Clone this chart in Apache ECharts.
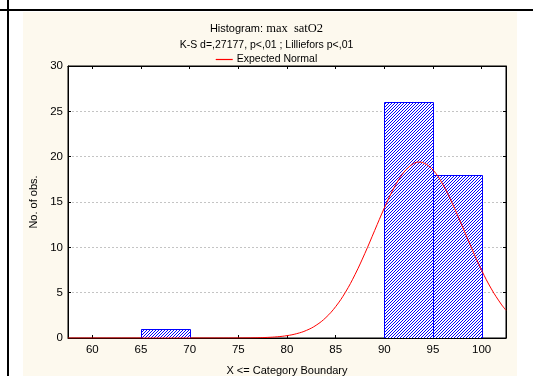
<!DOCTYPE html>
<html>
<head>
<meta charset="utf-8">
<script src="https://cdn.jsdelivr.net/npm/echarts@6/dist/echarts.min.js"></script>
<style>
html,body{margin:0;padding:0;background:#fff;}
#chart{width:533px;height:376px;}
</style>
</head>
<body>
<div id="chart"></div>
<script>
// ---- data ----
const binLower = [55, 60, 65, 70, 75, 80, 85, 90, 95, 100];
const binUpper = [60, 65, 70, 75, 80, 85, 90, 95, 100, 105];
const counts   = [0, 0, 1, 0, 0, 0, 0, 26, 18, 0];
const xTicks = [60, 65, 70, 75, 80, 85, 90, 95, 100];
const yTicks = [0, 5, 10, 15, 20, 25, 30];
// expected normal curve
const curveX = [57.5, 60, 62, 64, 66, 68, 70, 72, 74, 76, 77, 78, 79, 80, 81, 82, 83, 84, 85, 86, 87, 88, 89, 90, 91, 92, 93, 93.6, 94, 95, 96, 97, 98, 99, 100, 101, 102, 102.5];
const curveY = [0, 0, 0, 0, 0, 0, 0, 0, 0.003, 0.014, 0.031, 0.066, 0.134, 0.26, 0.48, 0.84, 1.41, 2.26, 3.46, 5.04, 7.02, 9.33, 11.84, 14.34, 16.57, 18.27, 19.24, 19.4, 19.33, 18.53, 16.96, 14.81, 12.35, 9.83, 7.46, 5.41, 3.74, 3.06];

const titleLine1a = 'Histogram:';
const titleLine1b = ' max  satO2';
const titleLine2 = 'K-S d=,27177, p<,01 ; Lilliefors p<,01';
const legendName = 'Expected Normal';
const yName = 'No. of obs.';
const xName = 'X <= Category Boundary';

// hatch pattern ("/" diagonals)
const tile = document.createElement('canvas');
tile.width = 3; tile.height = 3;
const tctx = tile.getContext('2d');
tctx.fillStyle = '#ffffff';
tctx.fillRect(0, 0, 3, 3);
tctx.fillStyle = '#0000ff';
for (let i = 0; i < 3; i++) {
  tctx.fillRect(i, 2 - i, 1, 1);
}
const hatch = { image: tile, repeat: 'repeat' };

const barData = binLower.map((lo, i) => [lo, binUpper[i], counts[i]]);
const curveData = curveX.map((x, i) => [x, curveY[i]]);

const FONT = '"Liberation Sans", Arial, sans-serif';
const chart = echarts.init(document.getElementById('chart'), null, { renderer: 'canvas' });

chart.setOption({
  animation: false,
  backgroundColor: '#ffffff',
  textStyle: { fontFamily: FONT, color: '#000' },
  graphic: [
    { type: 'rect', z: -10, shape: { x: 23, y: 12, width: 494, height: 370 }, style: { fill: '#fdf9ee' } },
    { type: 'line', z: -5, shape: { x1: 0, y1: 10, x2: 533, y2: 10 }, style: { stroke: '#000', lineWidth: 2 } },
    { type: 'line', z: -5, shape: { x1: 8, y1: 0, x2: 8, y2: 376 }, style: { stroke: '#000', lineWidth: 2 } }
  ],
  title: [
    {
      text: '{a|' + titleLine1a + '}{b|' + titleLine1b + '}',
      left: 'center', top: 17,
      textStyle: {
        fontWeight: 'normal',
        rich: {
          a: { fontFamily: FONT, fontSize: 11, fontWeight: 'normal', color: '#000' },
          b: { fontFamily: '"Liberation Serif", "Times New Roman", serif', fontSize: 12.5, fontWeight: 'normal', color: '#000' }
        }
      }
    },
    {
      text: titleLine2, left: 'center', top: 35,
      textStyle: { fontFamily: FONT, fontSize: 10.5, fontWeight: 'normal', color: '#000' }
    }
  ],
  legend: {
    data: [legendName], top: 49, left: 'center',
    icon: 'rect', itemWidth: 17, itemHeight: 1.2, itemGap: 4,
    textStyle: { fontFamily: FONT, fontSize: 10.5, color: '#000', padding: [0, 0, 0, -1] }
  },
  grid: {
    left: 68, right: 27, top: 66, bottom: 38,
    outerBoundsMode: 'none', containLabel: false,
    show: true, backgroundColor: '#ffffff', borderColor: '#000', borderWidth: 1
  },
  xAxis: [
    {
      type: 'value', min: 57.5, max: 102.5,
      name: xName, nameLocation: 'middle', nameGap: 27,
      nameTextStyle: { fontFamily: FONT, fontSize: 11, color: '#000' },
      axisLine: { show: true, onZero: false, lineStyle: { color: '#000', width: 1 } },
      axisTick: { show: true, inside: true, length: 3, customValues: xTicks, lineStyle: { color: '#000' } },
      axisLabel: { customValues: xTicks, fontFamily: FONT, fontSize: 11.5, color: '#000', margin: 6 },
      splitLine: { show: false }
    },
    {
      type: 'value', min: 57.5, max: 102.5, position: 'top',
      axisLine: { show: true, onZero: false, lineStyle: { color: '#000' } },
      axisTick: { show: true, inside: true, length: 3, customValues: xTicks, lineStyle: { color: '#000' } },
      axisLabel: { show: false },
      splitLine: { show: false }
    }
  ],
  yAxis: [
    {
      type: 'value', min: 0, max: 30, interval: 5,
      name: yName, nameLocation: 'middle', nameGap: 25, nameRotate: 90,
      nameTextStyle: { fontFamily: FONT, fontSize: 11, color: '#000' },
      axisLine: { show: true, onZero: false, lineStyle: { color: '#000' } },
      axisTick: { show: true, inside: true, length: 3, lineStyle: { color: '#000' } },
      axisLabel: { fontFamily: FONT, fontSize: 11.5, color: '#000', margin: 5 },
      splitLine: { show: true, lineStyle: { color: '#c4c4c4', type: [2, 2], width: 1 } }
    },
    {
      type: 'value', min: 0, max: 30, interval: 5, position: 'right',
      axisLine: { show: true, onZero: false, lineStyle: { color: '#000' } },
      axisTick: { show: true, inside: true, length: 3, lineStyle: { color: '#000' } },
      axisLabel: { show: false },
      splitLine: { show: false }
    }
  ],
  series: [
    {
      type: 'custom', xAxisIndex: 0, yAxisIndex: 0, clip: true, z: 2,
      data: barData,
      renderItem: function (params, api) {
        const x0 = api.value(0), x1 = api.value(1), y = api.value(2);
        if (y <= 0) return null;
        const p0 = api.coord([x0, y]);
        const p1 = api.coord([x1, 0]);
        return {
          type: 'rect',
          shape: { x: Math.round(p0[0]) + 0.5, y: Math.round(p0[1]) + 0.5, width: Math.round(p1[0] - p0[0]), height: Math.round(p1[1] - p0[1]) },
          style: { fill: hatch, stroke: '#0000ff', lineWidth: 1 }
        };
      }
    },
    {
      name: legendName, type: 'line', xAxisIndex: 0, yAxisIndex: 0, z: 3,
      data: curveData, showSymbol: false, symbol: 'none',
      smooth: 0.4, clip: true,
      itemStyle: { color: '#ff0000' },
      lineStyle: { color: '#ff0000', width: 1 }
    }
  ]
});
</script>
</body>
</html>
